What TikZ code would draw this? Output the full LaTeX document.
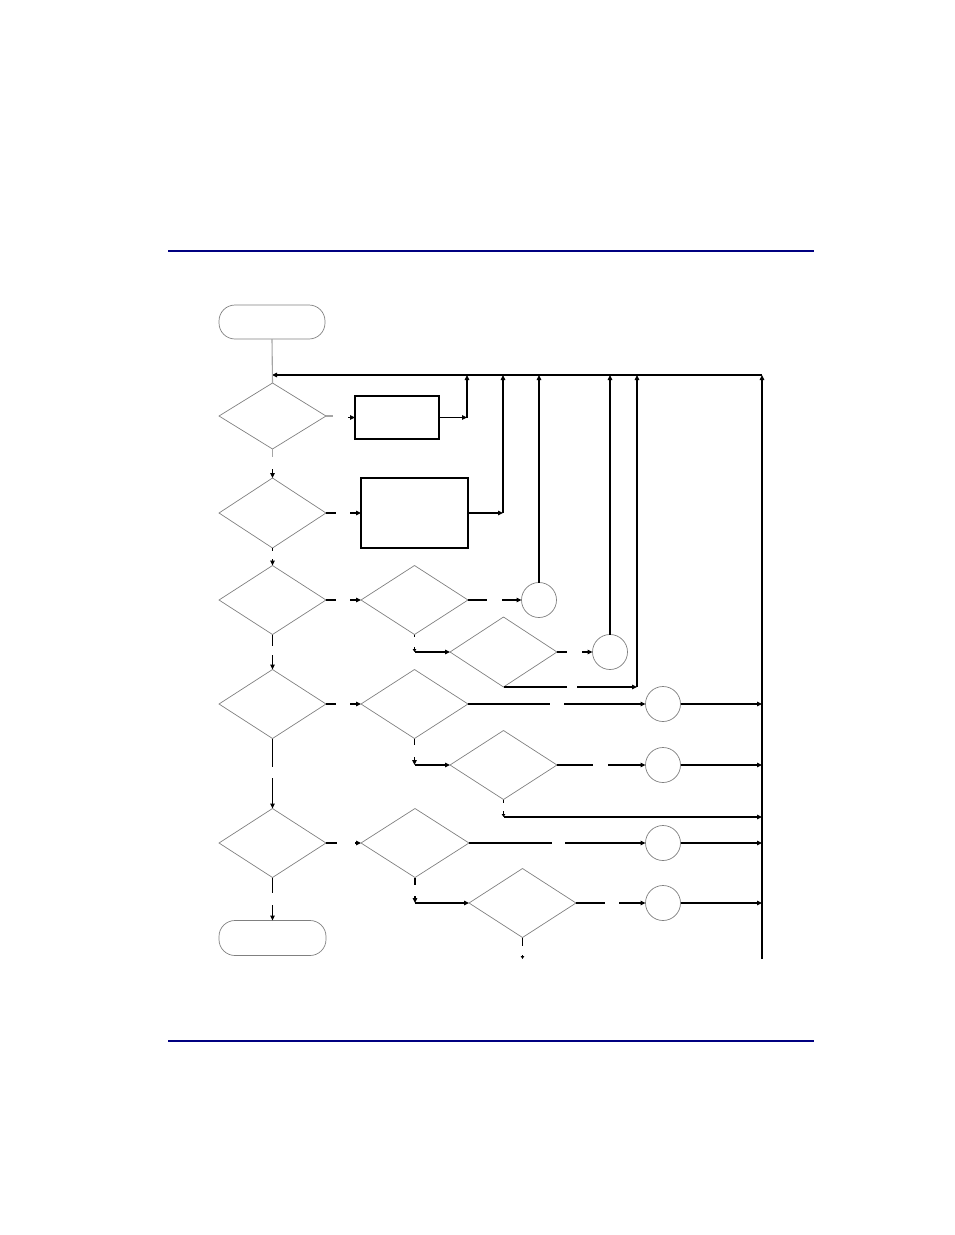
\documentclass[tikz,border=0pt]{standalone}
\usetikzlibrary{shapes.geometric,arrows.meta}
\definecolor{hdr}{RGB}{0,0,128}
\definecolor{outl}{RGB}{128,128,128}
\definecolor{lgray}{RGB}{165,165,165}
\tikzset{
  dia/.style={draw=outl,line width=0.7pt,diamond,inner sep=0pt,outer sep=0pt,minimum width=107pt,minimum height=69pt},
  boxnode/.style={draw=black,line width=1.1pt,rectangle,inner sep=0pt,outer sep=0pt},
  circnode/.style={draw=outl,line width=0.7pt,circle,inner sep=0pt,outer sep=0pt,minimum size=35pt},
  term/.style={draw=outl,line width=0.7pt,rectangle,rounded corners=16pt,inner sep=0pt,outer sep=0pt,minimum width=106pt,minimum height=34pt},
  conn/.style={draw=black,line width=1.1pt},
  gconn/.style={draw=lgray,line width=1.1pt},
  tip/.style={-{Triangle[length=5pt,width=4.5pt]}},
  smalltip/.style={-{Triangle[length=3pt,width=3.5pt]}},
  hline/.style={draw=hdr,line width=2pt}
}
\begin{document}
\begin{tikzpicture}[x=1pt,y=-1pt]
\useasboundingbox (0,0) rectangle (954,1235);
% header/footer rules
\coordinate (h1) at (168,251); \coordinate (h2) at (814,251);
\coordinate (f1) at (168,1041); \coordinate (f2) at (814,1041);
\draw[hline] (h1) -- (h2);
\draw[hline] (f1) -- (f2);

% nodes
\node[term] (start) at (272,322) {};
\node[term,minimum height=35pt,minimum width=107pt] (stop) at (272.5,938) {};
\node[dia,minimum height=66pt] (d1) at (272.5,416) {};
\node[dia,minimum height=70pt] (d2) at (272.5,513) {};
\node[dia] (d3) at (272.5,600) {};
\node[dia] (d6) at (272.5,704) {};
\node[dia] (d9) at (272.5,843) {};
\node[dia] (d4) at (414.5,600) {};
\node[dia] (d7) at (414.5,704) {};
\node[dia,minimum width=108pt] (d10) at (415,843) {};
\node[dia,minimum height=70pt] (d5) at (503.5,652) {};
\node[dia] (d8) at (503.5,765) {};
\node[dia] (d11) at (522.5,903) {};
\node[boxnode,minimum width=84pt,minimum height=43pt] (b1) at (397,417.5) {};
\node[boxnode,minimum width=107pt,minimum height=70pt] (b2) at (414.5,513) {};
\node[circnode] (c1) at (539,600) {};
\node[circnode] (c2) at (610,652) {};
\node[circnode] (c3) at (663,704) {};
\node[circnode] (c4) at (663,765) {};
\node[circnode] (c5) at (663,843) {};
\node[circnode] (c6) at (663,903) {};

% coordinates
\coordinate (tl) at (762,375);
\coordinate (j0) at (272,375);
\coordinate (bb) at (762,959);
\coordinate (k1) at (467,417.5);
\coordinate (k1t) at (467,375);
\coordinate (k2) at (503,513);
\coordinate (k2t) at (503,375);
\coordinate (c1t) at (539,375);
\coordinate (c2t) at (610,375);
\coordinate (k5) at (637,687);
\coordinate (k5t) at (637,375);

% main bus and top return line
\draw[conn,tip] (bb) -- (tl);
\draw[conn,tip] (tl) -- (j0);
\draw[gconn] (start.south) -- (d1.north);

% row 1
\coordinate (g1a) at (333,416); \coordinate (g1b) at (348,417.5);
\draw[gconn] (d1.east) -- (g1a);
\draw[conn,tip] (g1b) -- (b1.west);
\draw[conn,tip] (b1.east) -- (k1);
\draw[conn,tip] (k1) -- (k1t);
\coordinate (g2a) at (272.5,457); \coordinate (g2b) at (272.5,469);
\draw[gconn] (d1.south) -- (g2a);
\draw[conn,tip] (g2b) -- (d2.north);

% row 2
\coordinate (g3a) at (336,513); \coordinate (g3b) at (350,513);
\draw[conn] (d2.east) -- (g3a);
\draw[conn,tip] (g3b) -- (b2.west);
\draw[conn,tip] (b2.east) -- (k2);
\draw[conn,tip] (k2) -- (k2t);
\coordinate (g4a) at (272.5,551); \coordinate (g4b) at (272.5,559);
\draw[conn] (d2.south) -- (g4a);
\draw[conn,tip] (g4b) -- (d3.north);

% row 3
\coordinate (g5a) at (336,600); \coordinate (g5b) at (350,600);
\draw[conn] (d3.east) -- (g5a);
\draw[conn,tip] (g5b) -- (d4.west);
\coordinate (g6a) at (487,600); \coordinate (g6b) at (502,600);
\draw[conn] (d4.east) -- (g6a);
\draw[conn,tip] (g6b) -- (c1.west);
\draw[conn,tip] (c1.north) -- (c1t);
\coordinate (g7a) at (414.5,637); \coordinate (g7b) at (414.5,647); \coordinate (k7) at (414.5,652);
\draw[conn] (d4.south) -- (g7a);
\draw[conn,smalltip] (g7b) -- (k7);
\draw[conn,tip] (k7) -- (d5.west);
\coordinate (g8a) at (567,652); \coordinate (g8b) at (582,652);
\draw[conn] (d5.east) -- (g8a);
\draw[conn,tip] (g8b) -- (c2.west);
\draw[conn,tip] (c2.north) -- (c2t);
\coordinate (g9a) at (567,687); \coordinate (g9b) at (577,687);
\draw[conn] (d5.south) -- (g9a);
\draw[conn,tip] (g9b) -- (k5);
\draw[conn,tip] (k5) -- (k5t);
\coordinate (g10a) at (272.5,646); \coordinate (g10b) at (272.5,655);
\draw[conn] (d3.south) -- (g10a);
\draw[conn,tip] (g10b) -- (d6.north);

% row 4
\coordinate (g11a) at (336,704); \coordinate (g11b) at (350,704);
\draw[conn] (d6.east) -- (g11a);
\draw[conn,tip] (g11b) -- (d7.west);
\coordinate (g12a) at (550,704); \coordinate (g12b) at (564,704);
\draw[conn] (d7.east) -- (g12a);
\draw[conn,tip] (g12b) -- (c3.west);
\coordinate (e3) at (762,704);
\draw[conn,tip] (c3.east) -- (e3);
\coordinate (g13a) at (414.5,745); \coordinate (g13b) at (414.5,757); \coordinate (k13) at (414.5,765);
\draw[conn] (d7.south) -- (g13a);
\draw[conn,tip] (g13b) -- (k13);
\draw[conn,tip] (k13) -- (d8.west);
\coordinate (g14a) at (593,765); \coordinate (g14b) at (608,765);
\draw[conn] (d8.east) -- (g14a);
\draw[conn,tip] (g14b) -- (c4.west);
\coordinate (e4) at (762,765);
\draw[conn,tip] (c4.east) -- (e4);
\coordinate (g15a) at (503.5,803); \coordinate (g15b) at (503.5,811); \coordinate (k15) at (503.5,817);
\coordinate (e15) at (762,817);
\draw[conn] (d8.south) -- (g15a);
\draw[conn,smalltip] (g15b) -- (k15);
\draw[conn,tip] (k15) -- (e15);
\coordinate (g16a) at (272.5,767); \coordinate (g16b) at (272.5,778);
\draw[conn] (d6.south) -- (g16a);
\draw[conn,tip] (g16b) -- (d9.north);

% row 5
\coordinate (g17a) at (337,843); \coordinate (g17b) at (355,843);
\draw[conn] (d9.east) -- (g17a);
\draw[conn,tip] (g17b) -- (d10.west);
\coordinate (g18a) at (552,843); \coordinate (g18b) at (565,843);
\draw[conn] (d10.east) -- (g18a);
\draw[conn,tip] (g18b) -- (c5.west);
\coordinate (e5) at (762,843);
\draw[conn,tip] (c5.east) -- (e5);
\coordinate (g19a) at (415,885); \coordinate (g19b) at (415,896); \coordinate (k19) at (415,903);
\draw[conn] (d10.south) -- (g19a);
\draw[conn,tip] (g19b) -- (k19);
\draw[conn,tip] (k19) -- (d11.west);
\coordinate (g20a) at (605,903); \coordinate (g20b) at (619,903);
\draw[conn] (d11.east) -- (g20a);
\draw[conn,tip] (g20b) -- (c6.west);
\coordinate (e6) at (762,903);
\draw[conn,tip] (c6.east) -- (e6);
\coordinate (g21a) at (522.5,946); \coordinate (g21b) at (522.5,955); \coordinate (k21) at (522.5,959);
\draw[conn] (d11.south) -- (g21a);
\draw[conn,smalltip] (g21b) -- (k21);
\coordinate (g22a) at (272.5,893); \coordinate (g22b) at (272.5,905);
\draw[conn] (d9.south) -- (g22a);
\draw[conn,tip] (g22b) -- (stop.north);
\end{tikzpicture}
\end{document}
